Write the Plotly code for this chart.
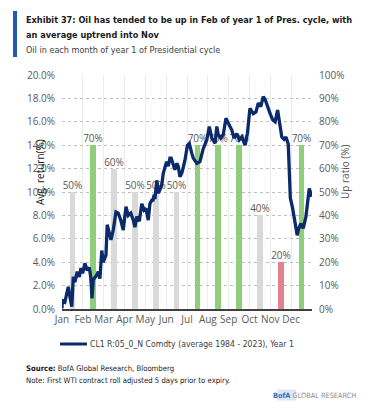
import plotly.graph_objects as go

# ---- data ----
months = ["Jan", "Feb", "Mar", "Apr", "May", "Jun", "Jul", "Aug", "Sep", "Oct", "Nov", "Dec"]
up_ratio = [50, 70, 60, 50, 50, 50, 70, 70, 70, 40, 20, 70]

# position within year (in months, 0 = Jan 1) and average return (%)
line_pos = [0.00, 0.01, 0.14, 0.23, 0.30, 0.38, 0.47, 0.54, 0.62, 0.73, 0.83, 0.91, 0.99,
            1.10, 1.21, 1.31, 1.38, 1.44, 1.50, 1.67, 1.74, 1.82, 1.91, 1.98, 2.11, 2.17,
            2.27, 2.35, 2.46, 2.59, 2.70, 2.82, 2.94, 3.07, 3.18, 3.30, 3.42, 3.50, 3.59,
            3.71, 3.83, 3.94, 4.03, 4.14, 4.22, 4.31, 4.37, 4.42, 4.46, 4.55, 4.63, 4.70,
            4.79, 4.86, 5.02, 5.10, 5.18, 5.24, 5.29, 5.38, 5.42, 5.51, 5.58, 5.66, 5.75,
            5.79, 5.90, 6.02, 6.11, 6.23, 6.30, 6.47, 6.62, 6.78, 6.95, 7.07, 7.19, 7.35,
            7.43, 7.50, 7.62, 7.74, 7.87, 7.98, 8.15, 8.26, 8.39, 8.51, 8.63, 8.79, 8.90,
            9.02, 9.18, 9.31, 9.42, 9.54, 9.66, 9.75, 9.86, 9.99, 10.12, 10.23, 10.35,
            10.43, 10.55, 10.66, 10.75, 10.86, 10.91, 10.96, 11.07, 11.18, 11.29, 11.35,
            11.46, 11.58, 11.71, 11.78, 11.87, 11.99]
avg_return = [0.05, 0.77, 0.6, 1.4, 1.9, 1.05, 0.2, 2.75, 2.3, 3.2, 2.75, 3.5, 3.05,
              3.9, 3.3, 3.55, 2.75, 0.9, 2.5, 2.9, 3.2, 2.6, 5.0, 4.0, 4.6, 7.2,
              6.6, 5.9, 6.75, 8.3, 8.2, 7.6, 6.75, 8.75, 8.0, 8.2, 7.6, 7.0, 7.9,
              7.5, 9.0, 8.45, 8.6, 7.6, 9.0, 9.3, 9.3, 9.75, 9.4, 11.0, 9.9, 10.2,
              10.6, 11.6, 12.6, 12.2, 12.9, 12.9, 12.6, 12.2, 11.9, 12.45, 12.2, 11.3, 11.6,
              11.9, 12.7, 14.0, 14.15, 13.3, 12.9, 12.45, 12.6, 13.7, 14.45, 15.6, 14.6, 14.15,
              15.6, 14.9, 14.6, 14.9, 16.3, 15.9, 15.3, 14.6, 15.0, 14.45, 14.7, 14.0, 15.0,
              17.15, 16.7, 16.85, 17.6, 17.3, 18.15, 17.9, 17.3, 16.7, 16.15, 16.0, 17.0,
              16.0, 14.7, 14.5, 14.7, 14.1, 12.0, 9.5, 8.6, 7.6, 6.3, 6.8,
              7.3, 6.9, 7.9, 9.0, 10.3, 9.6]

left_ticks = [0, 2, 4, 6, 8, 10, 12, 14, 16, 18, 20]
right_ticks = [0, 10, 20, 30, 40, 50, 60, 70, 80, 90, 100]

GREEN = "#8fcf7c"
GREY = "#d9d9d9"
RED = "#e0828f"
NAVY = "#0b2a6b"
TXT = "#595959"
NARROW = "DejaVu Sans Condensed, Liberation Sans Narrow, Roboto"

bar_colors = [GREEN if v >= 70 else (RED if v <= 20 else GREY) for v in up_ratio]
bar_pos = [i + 0.5 for i in range(len(months))]

W, H = 382, 410
L, R, T, B = 62, 312, 75, 309


def px(x):
    return (x - L) / (R - L)


def py(y):
    return (B - y) / (B - T)


fig = go.Figure()
fig.add_trace(go.Bar(
    x=bar_pos, y=up_ratio, yaxis="y", width=0.27,
    marker=dict(color=bar_colors, line=dict(width=0)),
    text=[f"{v}%" for v in up_ratio], textposition="outside",
    constraintext="none",
    textfont=dict(family="Open Sans", size=10, color=TXT),
    cliponaxis=False, showlegend=False, hoverinfo="skip",
))
fig.add_trace(go.Scatter(
    x=line_pos, y=avg_return, yaxis="y2", mode="lines",
    line=dict(color=NAVY, width=3.3),
    name="CL1 R:05_0_N Comdty (average 1984 - 2023), Year 1",
    showlegend=False,
))

tickfont = dict(family="Open Sans", size=10, color=TXT)

fig.update_layout(
    width=W, height=H,
    margin=dict(l=L, r=W - R, t=T, b=H - B),
    paper_bgcolor="white", plot_bgcolor="white",
    bargap=0,
    xaxis=dict(
        range=[0, 12], tickvals=list(range(13)), ticktext=months + [""],
        showgrid=True, gridcolor="#ececec", gridwidth=1,
        showline=True, linecolor="#404040", linewidth=1.5,
        ticks="", tickfont=tickfont, zeroline=False, fixedrange=True,
    ),
    yaxis=dict(
        side="right", range=[0, 100], tickvals=right_ticks,
        ticktext=[f"{v}%" for v in right_ticks],
        showgrid=True, gridcolor="#bfbfbf", griddash="dot", gridwidth=1,
        zeroline=False, tickfont=tickfont, ticks="", ticklabelstandoff=6,
    ),
    yaxis2=dict(
        side="left", overlaying="y", range=[0, 20], tickvals=left_ticks,
        ticktext=[f"{v:.1f}%" for v in left_ticks],
        showgrid=False, zeroline=False, tickfont=tickfont, ticks="",
        ticklabelstandoff=6,
    ),
)

ann = []
# titles
ann.append(dict(text="<b>Exhibit 37: Oil has tended to be up in Feb of year 1 of Pres. cycle, with</b>",
                x=px(24), y=py(20), xanchor="left", yanchor="middle",
                font=dict(family=NARROW, size=9.1, color="#1a1a1a")))
ann.append(dict(text="<b>an average uptrend into Nov</b>",
                x=px(24), y=py(35), xanchor="left", yanchor="middle",
                font=dict(family=NARROW, size=9.1, color="#1a1a1a")))
ann.append(dict(text="Oil in each month of year 1 of Presidential cycle",
                x=px(24), y=py(50), xanchor="left", yanchor="middle",
                font=dict(family=NARROW, size=9, color="#404040")))
# axis titles
ann.append(dict(text="Avg. return(%)", x=px(40), y=py(172), textangle=-90,
                xanchor="center", yanchor="middle",
                font=dict(family="Open Sans", size=10, color="#1a1a1a")))
ann.append(dict(text="Up ratio (%)", x=px(345), y=py(172), textangle=-90,
                xanchor="center", yanchor="middle",
                font=dict(family="Open Sans", size=10, color=TXT)))
# legend
ann.append(dict(text="CL1 R:05_0_N Comdty (average 1984 - 2023), Year 1",
                x=px(88), y=py(344), xanchor="left", yanchor="middle",
                font=dict(family=NARROW, size=8.6, color="#404040")))
# source/note
ann.append(dict(text="<b>Source:</b> BofA Global Research, Bloomberg",
                x=px(24), y=py(368), xanchor="left", yanchor="middle",
                font=dict(family=NARROW, size=7.7, color="#1a1a1a")))
ann.append(dict(text="Note: First WTI contract roll adjusted 5 days prior to expiry.",
                x=px(24), y=py(380), xanchor="left", yanchor="middle",
                font=dict(family=NARROW, size=7.7, color="#1a1a1a")))
ann.append(dict(text="<span style='color:#3d6fb6'><b>BofA</b></span> GLOBAL RESEARCH",
                x=px(358), y=py(395), xanchor="right", yanchor="middle",
                font=dict(family=NARROW, size=7.3, color="#8c8c8c")))
for a in ann:
    a.update(xref="paper", yref="paper", showarrow=False)
fig.update_layout(annotations=ann)

shapes = [
    dict(type="rect", xref="paper", yref="paper", x0=px(13), x1=px(17), y0=py(11), y1=py(57),
         fillcolor="#1f5bb5", line=dict(width=0)),
    dict(type="line", xref="paper", yref="paper", x0=px(60), x1=px(87), y0=py(344), y1=py(344),
         line=dict(color=NAVY, width=3)),
    dict(type="rect", xref="paper", yref="paper", x0=px(277), x1=px(296), y0=py(389.5), y1=py(400.5),
         fillcolor="#dce6f5", line=dict(width=0), layer="below"),
]
fig.update_layout(shapes=shapes)

fig.write_html("out.html", config={"displayModeBar": False},
               post_script="document.body.style.margin='0';document.body.style.padding='0';")
